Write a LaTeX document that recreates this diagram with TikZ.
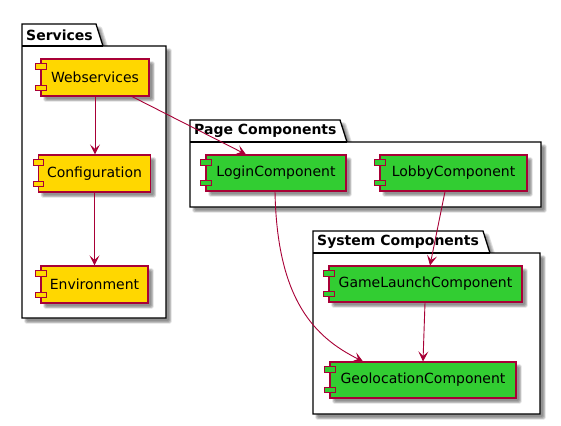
\documentclass[tikz,border=0pt]{standalone}
\usepackage{fontspec}
\setmainfont{DejaVu Sans}
\usetikzlibrary{arrows.meta}
\definecolor{edgered}{HTML}{A80036}
\definecolor{svcgold}{HTML}{FFD700}
\definecolor{cmpgreen}{HTML}{32CD32}
\tikzset{
  x=1pt,y=-1pt,
  pkgline/.style={draw=black,line width=1.3pt,fill=white,line join=miter},
  pkgtitle/.style={font=\bfseries\fontsize{14}{15}\selectfont,anchor=west,inner sep=0pt,text=black},
  compbox/.style={draw=edgered,line width=1.1pt,inner sep=0pt,font=\fontsize{14}{15}\selectfont,text=black},
  lug/.style={draw=edgered,line width=1.1pt,minimum width=10.5pt,minimum height=5.5pt,inner sep=0pt},
  flow/.style={draw=edgered,line width=0.9pt,-{Stealth[length=10pt,width=10pt,inset=4.5pt,fill=edgered]}},
  shadowfill/.style={fill=black,draw=none,opacity=0.13,rounded corners=1.5pt}
}
\newcommand{\softbox}[4]{%
  \foreach \g in {1.6,0.8,0,-0.8}{%
    \fill[shadowfill] ({#1+4-\g},{#2+4-\g}) rectangle ({#3+4+\g},{#4+4+\g});}}
% \package{name}{left}{tabtop}{bodytop}{right}{bottom}{tabright}{tabslopeend}{title}
\newcommand{\package}[9]{%
  \foreach \g in {1.6,0.8,0,-0.8}{%
    \fill[shadowfill] ({#2+4-\g},{#3+4-\g}) -- ({#7+4+\g},{#3+4-\g}) -- ({#8+4+\g},{#4+4-\g}) -- ({#5+4+\g},{#4+4-\g}) -- ({#5+4+\g},{#6+4+\g}) -- ({#2+4-\g},{#6+4+\g}) -- cycle;}
  \path[pkgline] (#2,#3) -- (#7,#3) -- (#8,#4) -- (#5,#4) -- (#5,#6) -- (#2,#6) -- cycle;
  \draw[black,line width=1.3pt] (#2,#4) -- (#8,#4);
  \node[pkgtitle] (#1) at ({#2+4},{(#3+#4)/2}) {#9};}
% \component{name}{x0}{y0}{x1}{y1}{colour}{text}
\newcommand{\component}[7]{%
  \softbox{#2}{#3}{#4}{#5}
  \node[compbox,fill=#6,minimum width={(#4-#2)*1pt},minimum height={(#5-#3)*1pt}] (#1) at ({(#2+#4)/2},{(#3+#5)/2}) {#7};
  \node[lug,fill=#6] (#1a) at (#2,{#3+7.5}) {};
  \node[lug,fill=#6] (#1b) at (#2,{#5-8}) {};}
\begin{document}
\begin{tikzpicture}
\useasboundingbox (0,0) rectangle (561,425);
\package{pkgs}{22}{24}{46}{166}{318}{96}{103}{Services}
\package{pkgp}{190}{120}{142}{541}{207}{340}{347}{Page Components}
\package{pkgc}{313}{231}{253}{540}{414}{483}{490}{System Components}

\component{web}{41}{59}{149}{96}{svcgold}{Webservices}
\component{conf}{38.5}{155}{150.5}{192}{svcgold}{Configuration}
\component{env}{41}{266}{148}{303}{svcgold}{Environment}
\component{login}{206}{155}{346}{191}{cmpgreen}{LoginComponent}
\component{lobby}{380}{155}{527}{191}{cmpgreen}{LobbyComponent}
\component{game}{329}{266}{522}{302}{cmpgreen}{GameLaunchComponent}
\component{geo}{330}{362}{516}{398}{cmpgreen}{GeolocationComponent}

\draw[flow] (web.south) -- (conf.north -| web.south);
\draw[flow] (conf.south) -- (conf.south |- env.north);
\draw[flow] ([xshift=37pt]web.south) -- ([xshift=-30pt]login.north);
\draw[flow] ([xshift=-1pt]login.south) .. controls ([xshift=1pt,yshift=-109pt]login.south) and ([xshift=-108pt,yshift=24pt]geo.north) .. ([xshift=-60pt]geo.north);
\draw[flow] ([xshift=-8.5pt]lobby.south) -- ([xshift=4.5pt]game.north);
\draw[flow] ([xshift=-0.5pt]game.south) -- (geo.north);
\end{tikzpicture}
\end{document}
